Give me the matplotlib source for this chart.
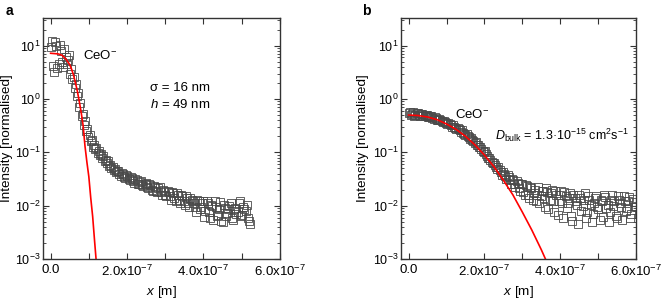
import matplotlib
matplotlib.use("Agg")
import matplotlib.pyplot as plt
from matplotlib.ticker import FixedLocator, FuncFormatter, LogLocator, NullFormatter

plt.rcParams["font.family"] = ["Liberation Sans", "DejaVu Sans"]
plt.rcParams["mathtext.fontset"] = "custom"
plt.rcParams["mathtext.rm"] = "Liberation Sans"
plt.rcParams["mathtext.it"] = "Liberation Sans:italic"
plt.rcParams["font.size"] = 9.5

# panel a: depth (nm) and normalised intensity, two interleaved scans
x_a_nm = [0, 6, 12, 18, 24, 30, 36, 42, 48, 54, 60, 66, 72, 78, 84, 90, 96, 102, 108, 114,
          120, 126, 132, 138, 144, 150, 156, 162, 168, 174, 180, 186, 192, 198, 204, 210,
          216, 222, 228, 234, 240, 246, 252, 258, 264, 270, 276, 282, 288, 294, 300, 306,
          312, 318, 324, 330, 336, 342, 348, 354, 360, 366, 372, 378, 384, 390, 396, 402,
          408, 414, 420, 426, 432, 438, 444, 450, 456, 462, 468, 474, 480, 486, 492, 498,
          504, 510, 516, 522]
y_a = [9.5, 4.2, 11.5, 3.8, 10.2, 5.0, 8.6, 4.5, 6.8, 3.6, 2.6, 1.9, 1.3, 0.85, 0.52, 0.38,
       0.27, 0.21, 0.17, 0.14, 0.12, 0.105, 0.092, 0.085, 0.072, 0.068, 0.058, 0.052, 0.049,
       0.044, 0.040, 0.041, 0.035, 0.037, 0.032, 0.034, 0.029, 0.031, 0.026, 0.028, 0.024,
       0.026, 0.022, 0.025, 0.020, 0.023, 0.019, 0.021, 0.018, 0.020, 0.016, 0.019, 0.015,
       0.018, 0.014, 0.017, 0.013, 0.016, 0.012, 0.015, 0.011, 0.014, 0.012, 0.0095, 0.013,
       0.0085, 0.011, 0.0062, 0.012, 0.0075, 0.0105, 0.0055, 0.0095, 0.0068, 0.0115, 0.0050,
       0.0090, 0.0072, 0.0100, 0.0060, 0.0085, 0.0070, 0.0110, 0.0065, 0.0095, 0.0078,
       0.0060, 0.0045]
x_a2_nm = [3, 9, 15, 21, 27, 33, 39, 45, 51, 57, 63, 69, 75, 81, 87, 93, 99, 105, 111, 117,
           123, 129, 135, 141, 147, 153, 159, 165, 171, 177, 183, 189, 195, 201, 207, 213,
           219, 225, 231, 237, 243, 249, 255, 261, 267, 273, 279, 285, 291, 297, 303, 309,
           315, 321, 327, 333, 339, 345, 351, 357, 363, 369, 375, 381, 387, 393, 399, 405,
           411, 417, 423, 429, 435, 441, 447, 453, 459, 465, 471, 477, 483, 489, 495, 501,
           507, 513, 519]
y_a2 = [12.0, 3.2, 9.8, 4.6, 8.0, 3.9, 6.2, 5.5, 3.0, 2.4,
        1.6, 1.15, 0.72, 0.48, 0.33, 0.25, 0.19, 0.16, 0.125, 0.115,
        0.098, 0.09, 0.078, 0.070, 0.062, 0.056, 0.051, 0.046, 0.043, 0.045,
        0.036, 0.039, 0.033, 0.036, 0.030, 0.033, 0.027, 0.030, 0.025, 0.029,
        0.023, 0.027, 0.021, 0.024, 0.019, 0.022, 0.018, 0.022, 0.016, 0.019,
        0.015, 0.018, 0.013, 0.017, 0.012, 0.016, 0.011, 0.015, 0.0105, 0.014,
        0.0095, 0.013, 0.011, 0.0075, 0.012, 0.0095, 0.0125, 0.0080, 0.011, 0.0058,
        0.0098, 0.0120, 0.0063, 0.0088, 0.0052, 0.0105, 0.0065, 0.0085, 0.0110, 0.0055,
        0.0092, 0.0075, 0.0120, 0.0068, 0.0088, 0.0105, 0.0052]
fit_a_nm = [0, 10, 20, 30, 40, 50, 55, 60, 65, 70, 75, 80, 85, 90, 95, 100, 105, 110, 115, 120]
fit_a = [7.2, 7.1, 7.0, 6.6, 5.6, 4.4, 3.6, 2.8, 2.0, 1.4, 0.9, 0.56, 0.32, 0.13, 0.065,
         0.035, 0.014, 0.0063, 0.0022, 0.0008]

# panel b
x_b_nm = [0, 6, 12, 18, 24, 30, 36, 42, 48, 54, 60, 66, 72, 78, 84, 90, 96, 102, 108, 114,
          120, 126, 132, 138, 144, 150, 156, 162, 168, 174, 180, 186, 192, 198, 204, 210,
          216, 222, 228, 234, 240, 246, 252, 258, 264, 270, 276, 282, 288, 294, 300, 306,
          312, 318, 324, 330, 336, 342, 348, 354, 360, 366, 372, 378, 384, 390, 396, 402,
          408, 414, 420, 426, 432, 438, 444, 450, 456, 462, 468, 474, 480, 486, 492, 498,
          504, 510, 516, 522, 528, 534, 540, 546, 552, 558, 564, 570, 576, 582, 588, 594, 600]
y_b = [0.55, 0.50, 0.56, 0.51, 0.54, 0.49, 0.52, 0.47, 0.50, 0.45, 0.47, 0.43, 0.44, 0.40,
       0.41, 0.37, 0.37, 0.34, 0.34, 0.30, 0.30, 0.27, 0.27, 0.24, 0.235, 0.21, 0.20, 0.18,
       0.17, 0.150, 0.140, 0.125, 0.115, 0.100, 0.092, 0.080, 0.072, 0.062, 0.058, 0.048,
       0.046, 0.038, 0.040, 0.031, 0.034, 0.026, 0.030, 0.022, 0.027, 0.019, 0.025, 0.016,
       0.023, 0.014, 0.021, 0.017, 0.012, 0.022, 0.015, 0.019, 0.0095, 0.018, 0.013, 0.020,
       0.0075, 0.016, 0.012, 0.0185, 0.0060, 0.015, 0.011, 0.017, 0.0052, 0.014, 0.0105,
       0.016, 0.0080, 0.013, 0.0060, 0.015, 0.0105, 0.0070, 0.014, 0.0095, 0.0055, 0.012,
       0.016, 0.0090, 0.0050, 0.013, 0.0100, 0.0065, 0.015, 0.0110, 0.0055, 0.0125, 0.0090,
       0.0145, 0.0070, 0.0115, 0.0095]
x_b2_nm = [3, 9, 15, 21, 27, 33, 39, 45, 51, 57, 63, 69, 75, 81, 87, 93, 99, 105, 111, 117,
           123, 129, 135, 141, 147, 153, 159, 165, 171, 177, 183, 189, 195, 201, 207, 213,
           219, 225, 231, 237, 243, 249, 255, 261, 267, 273, 279, 285, 291, 297, 303, 309,
           315, 321, 327, 333, 339, 345, 351, 357, 363, 369, 375, 381, 387, 393, 399, 405,
           411, 417, 423, 429, 435, 441, 447, 453, 459, 465, 471, 477, 483, 489, 495, 501,
           507, 513, 519, 525, 531, 537, 543, 549, 555, 561, 567, 573, 579, 585, 591, 597]
y_b2 = [0.58, 0.53, 0.49, 0.55, 0.50, 0.53, 0.48, 0.51, 0.46, 0.48,
        0.44, 0.45, 0.41, 0.42, 0.38, 0.39, 0.35, 0.36, 0.32, 0.33,
        0.29, 0.29, 0.26, 0.26, 0.225, 0.22, 0.19, 0.185, 0.16, 0.155,
        0.135, 0.128, 0.108, 0.104, 0.085, 0.080, 0.066, 0.064, 0.052, 0.052,
        0.042, 0.043, 0.036, 0.037, 0.030, 0.032, 0.025, 0.029, 0.021, 0.026,
        0.018, 0.024, 0.016, 0.022, 0.013, 0.020, 0.016, 0.011, 0.019, 0.014,
        0.021, 0.0085, 0.017, 0.012, 0.019, 0.0068, 0.016, 0.011, 0.018, 0.0090,
        0.014, 0.0065, 0.016, 0.012, 0.0045, 0.014, 0.0100, 0.017, 0.0075, 0.013,
        0.0050, 0.011, 0.015, 0.0085, 0.013, 0.0062, 0.0145, 0.0105, 0.0075, 0.016,
        0.0120, 0.0058, 0.0130, 0.0095, 0.015, 0.0080, 0.0120, 0.0060, 0.0135, 0.0100]
fit_b_nm = [0, 25, 50, 75, 100, 125, 150, 175, 200, 225, 250, 275, 300, 325, 350, 375]
fit_b = [0.50, 0.49, 0.46, 0.41, 0.34, 0.27, 0.20, 0.138, 0.089, 0.054, 0.030, 0.016,
         0.0076, 0.0035, 0.0015, 0.0006]


def x_fmt(v, pos):
    if abs(v) < 1e-12:
        return "0.0"
    return r"%.1fx10$^{-7}$" % (v / 1e-7)


def style_axis(ax, ylab_x):
    ax.set_yscale("log")
    ax.set_xlim(-0.2e-7, 6e-7)
    ax.set_ylim(1e-3, 33)
    ax.xaxis.set_major_locator(FixedLocator([0, 2e-7, 4e-7, 6e-7]))
    ax.xaxis.set_minor_locator(FixedLocator([1e-7, 3e-7, 5e-7]))
    ax.xaxis.set_major_formatter(FuncFormatter(x_fmt))
    ax.yaxis.set_major_locator(LogLocator(base=10, numticks=10))
    ax.yaxis.set_minor_locator(LogLocator(base=10, subs=range(2, 10), numticks=10))
    ax.yaxis.set_minor_formatter(NullFormatter())
    ax.tick_params(which="both", direction="in", top=True, right=True,
                   color="#333333")
    ax.tick_params(axis="x", labelsize=9.5)
    ax.tick_params(axis="y", labelsize=9, pad=2)
    ax.tick_params(which="major", length=4, width=0.8)
    ax.tick_params(which="minor", length=2, width=0.6)
    ax.tick_params(axis="x", which="minor", length=4, width=0.8)
    for s in ax.spines.values():
        s.set_color("#333333")
        s.set_linewidth(1.0)
    ax.set_xlabel("$x$ [m]", fontsize=9.7)
    ax.set_ylabel("Intensity [normalised]", fontsize=9.7)
    ax.xaxis.set_label_coords(0.5, -0.105)
    ax.yaxis.set_label_coords(ylab_x, 0.5)


fig = plt.figure(figsize=(6.61, 3.01), dpi=100)
ax_a = fig.add_axes([0.065, 0.1395, 0.3585, 0.8007])
ax_b = fig.add_axes([0.6067, 0.1395, 0.3555, 0.8007])

sq = dict(ls="none", marker="s", ms=5.5, mfc="none", mec="#4a4a4a", mew=0.6)
ax_a.plot([v * 1e-9 for v in x_a_nm], y_a, **sq)
ax_a.plot([v * 1e-9 for v in x_a2_nm], y_a2, **sq)
ax_a.plot([v * 1e-9 for v in fit_a_nm], fit_a, color="red", lw=1.2)
ax_b.plot([v * 1e-9 for v in x_b_nm], y_b, **sq)
ax_b.plot([v * 1e-9 for v in x_b2_nm], y_b2, **sq)
ax_b.plot([v * 1e-9 for v in fit_b_nm], fit_b, color="red", lw=1.2)

style_axis(ax_a, -0.125)
style_axis(ax_b, -0.136)

ax_a.text(0.17, 0.846, "CeO$^{-}$", transform=ax_a.transAxes, va="center")
ax_a.text(0.45, 0.71, "σ = 16 nm", transform=ax_a.transAxes, va="center")
ax_a.text(0.45, 0.64, "$h$ = 49 nm", transform=ax_a.transAxes, va="center")
ax_b.text(0.23, 0.60, "CeO$^{-}$", transform=ax_b.transAxes, va="center")
ax_b.text(0.40, 0.515, r"$D_{\mathrm{bulk}}$ = 1.3·10$^{-15}$ cm$^{2}$s$^{-1}$",
          transform=ax_b.transAxes, va="center", fontsize=9)

fig.text(0.008, 0.965, "a", fontsize=10, fontweight="bold", va="center")
fig.text(0.548, 0.965, "b", fontsize=10, fontweight="bold", va="center")

fig.savefig("out.png", dpi=100)
